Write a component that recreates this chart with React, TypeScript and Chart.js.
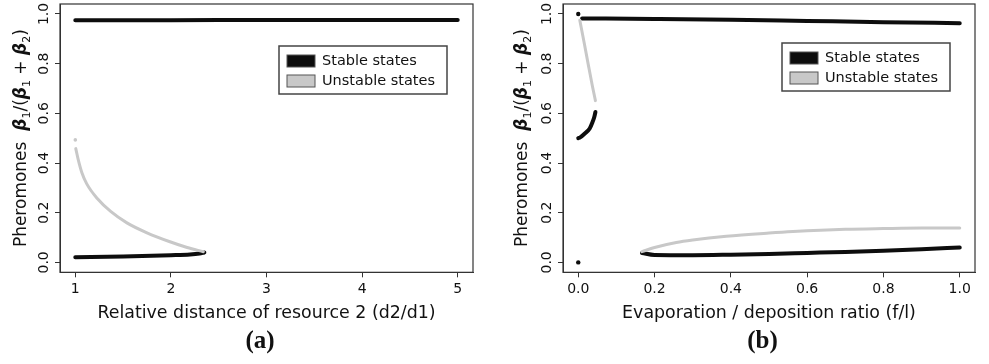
import React, { useEffect, useRef } from "react";
import { Chart, registerables } from "chart.js";

Chart.register(...registerables);

const BLACK = "#0d0d0d";
const GRAY = "#c8c8c8";
const AXIS = "#333333";
const TEXT = "#111111";
const FONT = "'DejaVu Sans', sans-serif";

const legendLabels = ["Stable states", "Unstable states"];
const yTicks = [0, 0.2, 0.4, 0.6, 0.8, 1.0];

// ---- Panel (a) ----
const aXTicks = [1, 2, 3, 4, 5];
const aStableTopX = [1, 2, 3, 4, 5];
const aStableTopY = [0.975, 0.975, 0.976, 0.976, 0.976];
const aStableLowX = [1.0, 1.5, 2.0, 2.2, 2.3, 2.35];
const aStableLowY = [0.021, 0.024, 0.029, 0.032, 0.036, 0.04];
const aUnstableX = [1.005, 1.03, 1.07, 1.12, 1.23, 1.37, 1.54, 1.75, 1.99, 2.17, 2.34];
const aUnstableY = [0.458, 0.415, 0.36, 0.316, 0.257, 0.205, 0.159, 0.119, 0.083, 0.06, 0.043];
const aUnstableDotX = [1.0];
const aUnstableDotY = [0.493];

// ---- Panel (b) ----
const bXTicks = [0, 0.2, 0.4, 0.6, 0.8, 1.0];
const bStableTopX = [0.01, 0.2, 0.4, 0.6, 0.8, 1.0];
const bStableTopY = [0.982, 0.98, 0.977, 0.972, 0.967, 0.963];
const bStableMidX = [0.0, 0.005, 0.018, 0.03, 0.037, 0.042, 0.045];
const bStableMidY = [0.5, 0.503, 0.52, 0.539, 0.563, 0.585, 0.605];
const bUnstableTopX = [0.004, 0.016, 0.027, 0.037, 0.045];
const bUnstableTopY = [0.975, 0.88, 0.79, 0.71, 0.651];
const bStableLowX = [0.167, 0.2, 0.3, 0.4, 0.5, 0.6, 0.7, 0.8, 0.9, 1.0];
const bStableLowY = [0.038, 0.03, 0.029, 0.031, 0.034, 0.038, 0.042, 0.047, 0.053, 0.06];
const bUnstableLowX = [0.167, 0.2, 0.257, 0.3, 0.388, 0.5, 0.563, 0.7, 0.8, 0.9, 1.0];
const bUnstableLowY = [0.043, 0.06, 0.08, 0.09, 0.105, 0.118, 0.124, 0.133, 0.136, 0.138, 0.138];
const bDotsX = [0, 0];
const bDotsY = [1.0, 0.0];

const pts = (xs: number[], ys: number[]) => xs.map((x, i) => ({ x, y: ys[i] }));

const lineDs = (label: string, xs: number[], ys: number[], color: string, w: number) => ({
  label,
  data: pts(xs, ys),
  borderColor: color,
  backgroundColor: color,
  borderWidth: w,
  pointRadius: 0,
  showLine: true,
  cubicInterpolationMode: "monotone" as const,
  borderCapStyle: "round" as const,
  fill: false,
});

const dotDs = (label: string, xs: number[], ys: number[], color: string, r: number) => ({
  label,
  data: pts(xs, ys),
  borderColor: color,
  backgroundColor: color,
  pointRadius: r,
  pointBorderWidth: 0,
  showLine: false,
});

type Spec = {
  name: string;
  xTitle: string;
  xTicks: number[];
  xMin: number;
  xMax: number;
  xFmt: (v: number) => string;
  datasets: any[];
  padding: { left: number; right: number; top: number; bottom: number };
  yTitleOffset: number;
  legendTop: number;
  legendRight: number;
};

const specA: Spec = {
  name: "(a)",
  xTitle: "Relative distance of resource 2 (d2/d1)",
  xTicks: aXTicks,
  xMin: 0.84,
  xMax: 5.16,
  xFmt: (v) => String(v),
  datasets: [
    lineDs(legendLabels[1], aUnstableX, aUnstableY, GRAY, 3),
    dotDs(legendLabels[1], aUnstableDotX, aUnstableDotY, GRAY, 1.8),
    lineDs(legendLabels[0], aStableTopX, aStableTopY, BLACK, 4),
    lineDs(legendLabels[0], aStableLowX, aStableLowY, BLACK, 4),
  ],
  padding: { left: 55, right: 22, top: 3, bottom: 36 },
  yTitleOffset: 38,
  legendTop: 42,
  legendRight: 26,
};

const specB: Spec = {
  name: "(b)",
  xTitle: "Evaporation / deposition ratio (f/l)",
  xTicks: bXTicks,
  xMin: -0.04,
  xMax: 1.04,
  xFmt: (v) => v.toFixed(1),
  datasets: [
    lineDs(legendLabels[1], bUnstableTopX, bUnstableTopY, GRAY, 3),
    lineDs(legendLabels[1], bUnstableLowX, bUnstableLowY, GRAY, 3),
    lineDs(legendLabels[0], bStableTopX, bStableTopY, BLACK, 4),
    lineDs(legendLabels[0], bStableMidX, bStableMidY, BLACK, 4),
    lineDs(legendLabels[0], bStableLowX, bStableLowY, BLACK, 4),
    dotDs(legendLabels[0], bDotsX, bDotsY, BLACK, 2.2),
  ],
  padding: { left: 63, right: 14, top: 3, bottom: 36 },
  yTitleOffset: 40,
  legendTop: 39,
  legendRight: 25,
};

function makeDecor(spec: Spec) {
  return {
    id: "decor",
    afterDraw(chart: any) {
      const { ctx, chartArea: ca, scales } = chart;
      ctx.save();
      // box
      ctx.strokeStyle = AXIS;
      ctx.lineWidth = 1.2;
      ctx.strokeRect(ca.left, ca.top, ca.right - ca.left, ca.bottom - ca.top);

      // y tick labels (rotated, R style)
      ctx.fillStyle = TEXT;
      ctx.font = `14px ${FONT}`;
      ctx.textAlign = "center";
      ctx.textBaseline = "middle";
      for (const v of yTicks) {
        const py = scales.y.getPixelForValue(v);
        ctx.save();
        ctx.translate(ca.left - 15.5, py);
        ctx.rotate(-Math.PI / 2);
        ctx.fillText(v.toFixed(1), 0, 0);
        ctx.restore();
      }

      // y title with math
      const segs: { t: string; f: string; dy: number }[] = [
        { t: "Pheromones  ", f: `17px ${FONT}`, dy: 0 },
        { t: "β", f: `italic bold 17px ${FONT}`, dy: 0 },
        { t: "1", f: `11px ${FONT}`, dy: 5 },
        { t: "/(", f: `17px ${FONT}`, dy: 0 },
        { t: "β", f: `italic bold 17px ${FONT}`, dy: 0 },
        { t: "1", f: `11px ${FONT}`, dy: 5 },
        { t: " + ", f: `17px ${FONT}`, dy: 0 },
        { t: "β", f: `italic bold 17px ${FONT}`, dy: 0 },
        { t: "2", f: `11px ${FONT}`, dy: 5 },
        { t: ")", f: `17px ${FONT}`, dy: 0 },
      ];
      let total = 0;
      const widths = segs.map((s) => {
        ctx.font = s.f;
        const w = ctx.measureText(s.t).width;
        total += w;
        return w;
      });
      ctx.save();
      ctx.translate(ca.left - spec.yTitleOffset, (ca.top + ca.bottom) / 2);
      ctx.rotate(-Math.PI / 2);
      ctx.textAlign = "left";
      ctx.textBaseline = "middle";
      ctx.fillStyle = TEXT;
      let x = -total / 2;
      segs.forEach((s, i) => {
        ctx.font = s.f;
        ctx.fillText(s.t, x, s.dy);
        x += widths[i];
      });
      ctx.restore();

      // legend
      const lw = 168;
      const lh = 48;
      const lx = ca.right - spec.legendRight - lw;
      const ly = ca.top + spec.legendTop;
      ctx.fillStyle = "#fff";
      ctx.fillRect(lx, ly, lw, lh);
      ctx.strokeStyle = "#444";
      ctx.lineWidth = 1.5;
      ctx.strokeRect(lx, ly, lw, lh);
      const fills = [BLACK, GRAY];
      legendLabels.forEach((lab, i) => {
        const ky = ly + 9 + i * 20;
        ctx.fillStyle = fills[i];
        ctx.fillRect(lx + 8, ky, 28, 12);
        ctx.strokeStyle = "#555";
        ctx.lineWidth = 1;
        ctx.strokeRect(lx + 8, ky, 28, 12);
        ctx.fillStyle = TEXT;
        ctx.font = `14.5px ${FONT}`;
        ctx.textAlign = "left";
        ctx.textBaseline = "middle";
        ctx.fillText(lab, lx + 43, ky + 6.5);
      });

      // panel label
      ctx.fillStyle = "#111";
      ctx.font = `bold 25px 'Liberation Serif', 'Times New Roman', serif`;
      ctx.textAlign = "center";
      ctx.textBaseline = "middle";
      ctx.fillText(spec.name, (ca.left + ca.right) / 2 - 6.5, 342);
      ctx.restore();
    },
  };
}

function buildConfig(spec: Spec): any {
  return {
    type: "line",
    data: { datasets: spec.datasets },
    options: {
      animation: false,
      responsive: false,
      devicePixelRatio: 1,
      layout: { padding: spec.padding },
      plugins: {
        legend: { display: false },
        tooltip: { enabled: false },
      },
      scales: {
        x: {
          type: "linear",
          min: spec.xMin,
          max: spec.xMax,
          afterBuildTicks: (s: any) => {
            s.ticks = spec.xTicks.map((v) => ({ value: v }));
          },
          ticks: {
            font: { family: FONT, size: 14 },
            color: TEXT,
            padding: 4,
            maxRotation: 0,
            autoSkip: false,
            callback: (v: any) => spec.xFmt(Number(v)),
          },
          grid: {
            drawOnChartArea: false,
            tickLength: 5,
            color: AXIS,
            tickWidth: 1,
          },
          border: { display: true, color: AXIS, width: 1 },
          title: {
            display: true,
            text: spec.xTitle,
            font: { family: FONT, size: 17.4 },
            color: TEXT,
            padding: { top: 1, bottom: 4 },
          },
        },
        y: {
          type: "linear",
          min: -0.04,
          max: 1.04,
          afterBuildTicks: (s: any) => {
            s.ticks = yTicks.map((v) => ({ value: v }));
          },
          ticks: { display: false },
          grid: {
            drawOnChartArea: false,
            tickLength: 5,
            color: AXIS,
            tickWidth: 1,
          },
          border: { display: true, color: AXIS, width: 1 },
        },
      },
    },
    plugins: [makeDecor(spec)],
  };
}

function Panel({ spec, left, width }: { spec: Spec; left: number; width: number }) {
  const ref = useRef<HTMLCanvasElement>(null);
  useEffect(() => {
    const chart = new Chart(ref.current as HTMLCanvasElement, buildConfig(spec));
    return () => chart.destroy();
  }, [spec]);
  return (
    <canvas
      ref={ref}
      width={width}
      height={364}
      style={{ position: "absolute", left, top: 0, width, height: 364 }}
    />
  );
}

export default function App() {
  return (
    <div
      style={{
        position: "fixed",
        left: 0,
        top: 0,
        width: 989,
        height: 364,
        background: "#fff",
        overflow: "hidden",
      }}
    >
      <Panel spec={specA} left={0} width={495} />
      <Panel spec={specB} left={495} width={494} />
    </div>
  );
}
